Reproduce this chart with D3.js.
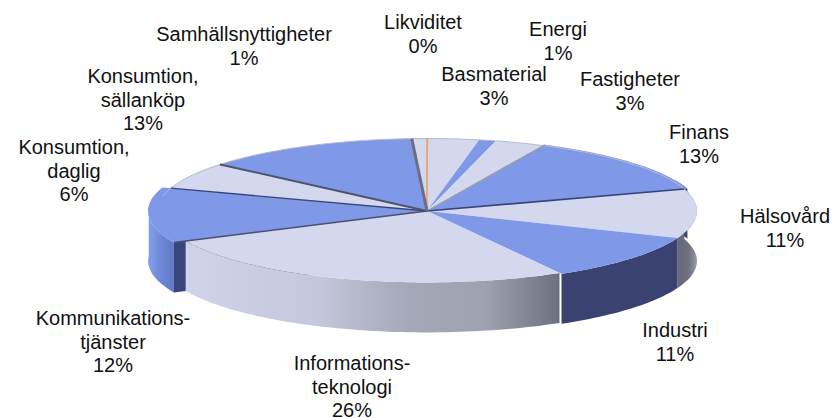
<!DOCTYPE html>
<html lang="sv">
<head>
    <meta charset="UTF-8">
    <title>Pie</title>
    <style>
        body { margin: 0; background: #fff; }
        text { font-family: "Liberation Sans", Arial, sans-serif; font-size: 20px; fill: #111; text-anchor: middle; }
    </style>
</head>
<body>
    <svg width="834" height="418"></svg>
    <script src="https://cdnjs.cloudflare.com/ajax/libs/d3/7.8.5/d3.min.js"></script>
    <script>
        var categories = ["Likviditet", "Basmaterial", "Energi", "Fastigheter", "Finans", "Hälsovård", "Industri",
            "Informationsteknologi", "Kommunikationstjänster", "Konsumtion daglig", "Konsumtion sällanköp", "Samhällsnyttigheter"];
        var values = [0.1, 3, 1, 3, 13, 11, 10.6, 26.4, 12, 6, 13, 0.9];
        var percentLabels = ["0%", "3%", "1%", "3%", "13%", "11%", "11%", "26%", "12%", "6%", "13%", "1%"];
        var labelLines = [["Likviditet"], ["Basmaterial"], ["Energi"], ["Fastigheter"], ["Finans"], ["Hälsovård"], ["Industri"],
            ["Informations-", "teknologi"], ["Kommunikations-", "tjänster"], ["Konsumtion,", "daglig"], ["Konsumtion,", "sällanköp"], ["Samhällsnyttigheter"]];

        // layout, kept apart from the data
        var cx = 427, cy = 211, rx = 270, ry = 72.5, depth = 50;
        var labelX = [423, 494, 558, 630, 699, 785, 675, 352, 113, 74, 143, 244];
        var labelY = [29, 81, 36, 86, 139, 223, 337, 370, 325, 154, 83, 41];
        var lineGap = 23.5;
        var radiusScale = [1, 1, 1, 1, 1.012, 1, 1, 0.985, 1.033, 1, 1, 1];
        var topColor = ["#e8a070", "#d3d8ee", "#8098e8", "#d3d8ee", "#8098e8", "#d3d8ee", "#8098e8", "#d3d8ee", "#8098e8", "#d3d8ee", "#8098e8", "#d3d8ee"];

        var svg = d3.select("svg");
        var defs = svg.append("defs");

        function gradient(id, stops) {
            var g = defs.append("linearGradient").attr("id", id);
            stops.forEach(function (s) {
                g.append("stop").attr("offset", s[0]).attr("stop-color", s[1]);
            });
        }
        gradient("wallInfo", [[0, "#d0d4ea"], [0.35, "#c4c8dc"], [0.6, "#a4a7b7"], [0.8, "#9fa2b0"], [1, "#6d707f"]]);
        gradient("wallHals", [[0, "#65687a"], [0.6, "#6f7280"], [1, "#9a9da6"]]);
        gradient("wallKomm", [[0, "#86a0ea"], [0.5, "#6e88d8"], [1, "#5f78c8"]]);

        var pie = d3.pie().sort(null).value(function (d) { return d; });
        var slices = pie(values);

        function pt(a, k) {
            return [cx + rx * k * Math.sin(a), cy - ry * k * Math.cos(a)];
        }

        var line = d3.line();

        // outer wall of a slice, only the part between a0 and a1
        function wall(a0, a1, k) {
            var n = Math.max(2, Math.ceil((a1 - a0) * 40));
            var top = d3.range(n + 1).map(function (i) { return pt(a0 + (a1 - a0) * i / n, k); });
            var bottom = top.slice().reverse().map(function (p) { return [p[0], p[1] + depth]; });
            return line(top.concat(bottom)) + "Z";
        }

        function face(d, k) {
            var n = Math.max(2, Math.ceil((d.endAngle - d.startAngle) * 40));
            var rim = d3.range(n + 1).map(function (i) { return pt(d.startAngle + (d.endAngle - d.startAngle) * i / n, k); });
            return line([[cx, cy]].concat(rim)) + "Z";
        }

        var walls = svg.append("g");
        var fin = slices[4], hal = slices[5], ind = slices[6], inf = slices[7], kom = slices[8];

        walls.append("path").attr("d", wall(fin.endAngle - 0.12, fin.endAngle, radiusScale[4])).attr("fill", "#3b4574");
        walls.append("path").attr("d", wall(hal.startAngle, hal.endAngle, radiusScale[5])).attr("fill", "url(#wallHals)");
        walls.append("path").attr("d", wall(ind.startAngle, ind.endAngle, radiusScale[6])).attr("fill", "#3a4272");
        walls.append("path").attr("d", wall(kom.startAngle, kom.startAngle + 0.5, radiusScale[8])).attr("fill", "url(#wallKomm)");

        // cut face of the Kommunikation slice
        var kp = pt(kom.startAngle, radiusScale[8]);
        walls.append("path")
            .attr("d", line([kp, [cx, cy], [cx, cy + depth], [kp[0], kp[1] + depth]]) + "Z")
            .attr("fill", "#39457a");
        walls.append("path").attr("d", wall(inf.startAngle, inf.endAngle, radiusScale[7])).attr("fill", "url(#wallInfo)");

        // tops
        svg.append("g").selectAll("path")
            .data(slices)
            .enter()
            .append("path")
            .attr("d", function (d, i) { return face(d, radiusScale[i]); })
            .attr("fill", function (d, i) { return topColor[i]; });

        // faint rim along the back of the pie
        svg.append("path")
            .attr("d", line(d3.range(-78, 78, 2).map(function (deg) { return pt(deg * Math.PI / 180, 1); })))
            .attr("fill", "none")
            .attr("stroke", "#b8bcc8")
            .attr("stroke-width", 1);

        // thin dark cut lines where the slices meet
        var cutWidth = { 0: 1.6, 4: 1.4, 5: 1.6, 8: 1.4, 9: 1.4, 10: 2, 11: 3 };
        var cutColor = { 0: "#e8a070", 4: "#9a9da8", 5: "#39457a", 8: "#4a5070", 9: "#39457a", 10: "#4f5468", 11: "#6a6e80" };
        svg.append("g").selectAll("line")
            .data(Object.keys(cutWidth))
            .enter()
            .append("line")
            .attr("x1", cx)
            .attr("y1", cy)
            .attr("x2", function (i) { return pt(slices[+i].startAngle, radiusScale[+i])[0]; })
            .attr("y2", function (i) { return pt(slices[+i].startAngle, radiusScale[+i])[1]; })
            .attr("stroke", function (i) { return cutColor[i]; })
            .attr("stroke-width", function (i) { return cutWidth[i]; });

        // labels
        var labels = svg.append("g").selectAll("text")
            .data(categories)
            .enter()
            .append("text")
            .attr("x", function (d, i) { return labelX[i]; })
            .attr("y", function (d, i) { return labelY[i]; });

        labels.each(function (d, i) {
            var t = d3.select(this);
            labelLines[i].concat([percentLabels[i]]).forEach(function (s, j) {
                t.append("tspan").attr("x", labelX[i]).attr("dy", j ? lineGap : 0).text(s);
            });
        });
    </script>
</body>
</html>
